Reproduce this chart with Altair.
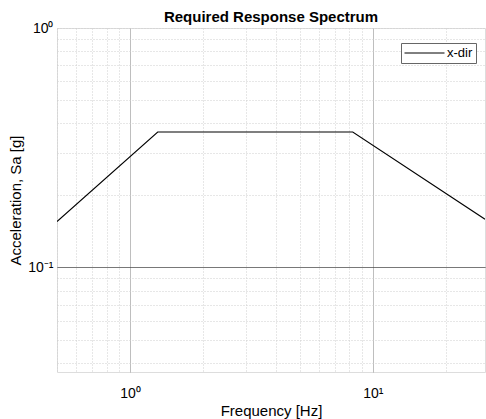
import altair as alt
import pandas as pd

# Data
freq = [0.5, 1.3, 8.27, 29.0]
accel = [0.1556, 0.3677, 0.3677, 0.159]
series = ["x-dir", "x-dir", "x-dir", "x-dir"]

x_ticks = [0.5, 0.6, 0.7, 0.8, 0.9, 1, 2, 3, 4, 5, 6, 7, 8, 9, 10, 20]
y_ticks = [0.04, 0.05, 0.06, 0.07, 0.08, 0.09, 0.1, 0.2, 0.3, 0.4, 0.5, 0.6, 0.7, 0.8, 0.9, 1]
x_domain = [0.5, 29.0]
y_domain = [0.0366, 1.0]

df = pd.DataFrame({"freq": freq, "accel": accel, "series": series})

FONT = "Liberation Sans"

x_axis = alt.Axis(
    values=x_ticks,
    title="Frequency [Hz]",
    labelExpr="datum.value == 1 ? '10⁰' : (datum.value == 10 ? '10¹' : '')",
    grid=True,
    gridColor={"condition": {"test": "datum.value == 1 || datum.value == 10", "value": "#a8a8a8"}, "value": "#cfcfcf"},
    gridDash={"condition": {"test": "datum.value == 1 || datum.value == 10", "value": [1, 0]}, "value": [1, 2]},
    ticks=False,
    domain=False,
    labelFont=FONT, labelFontSize=14, labelColor="black", labelPadding=14,
    titleFont=FONT, titleFontSize=15, titleFontWeight="normal", titleColor="black", titlePadding=3,
)

y_axis = alt.Axis(
    values=y_ticks,
    title="Acceleration, Sa [g]",
    labelExpr="datum.value == 1 ? '10⁰' : (datum.value == 0.1 ? '10⁻¹' : '')",
    grid=True,
    gridColor={"condition": {"test": "datum.value == 0.1", "value": "#4a4a4a"}, "value": "#cfcfcf"},
    gridDash={"condition": {"test": "datum.value == 0.1", "value": [1, 0]}, "value": [1, 2]},
    ticks=False,
    domain=False,
    labelFont=FONT, labelFontSize=14, labelColor="black", labelPadding=4,
    titleFont=FONT, titleFontSize=15, titleFontWeight="normal", titleColor="black", titlePadding=4,
)

chart = alt.Chart(df).mark_line(strokeWidth=1.1, clip=True).encode(
    x=alt.X("freq:Q", scale=alt.Scale(type="log", domain=x_domain, nice=False), axis=x_axis),
    y=alt.Y("accel:Q", scale=alt.Scale(type="log", domain=y_domain, nice=False), axis=y_axis),
    color=alt.Color(
        "series:N",
        scale=alt.Scale(range=["black"]),
        legend=alt.Legend(
            title=None,
            orient="none",
            legendX=344,
            legendY=15,
            symbolType="stroke",
            symbolSize=1600,
            symbolStrokeWidth=1,
            clipHeight=14,
            labelFont=FONT,
            labelFontSize=13,
            labelColor="black",
            labelOffset=2,
            strokeColor="#666666",
            fillColor="white",
            padding=3,
        ),
    ),
).properties(
    width=428,
    height=344,
    title=alt.TitleParams(
        "Required Response Spectrum",
        font=FONT, fontSize=15, fontWeight="bold", color="black", anchor="middle", offset=6, dy=10,
    ),
    autosize=alt.AutoSizeParams(type="none"),
    padding={"left": 57, "top": 28, "right": 1, "bottom": 47},
).configure_view(
    stroke="#262626", strokeWidth=1
).configure(background="white")

chart.save("out.html", embed_options={"renderer": "svg", "actions": False})
